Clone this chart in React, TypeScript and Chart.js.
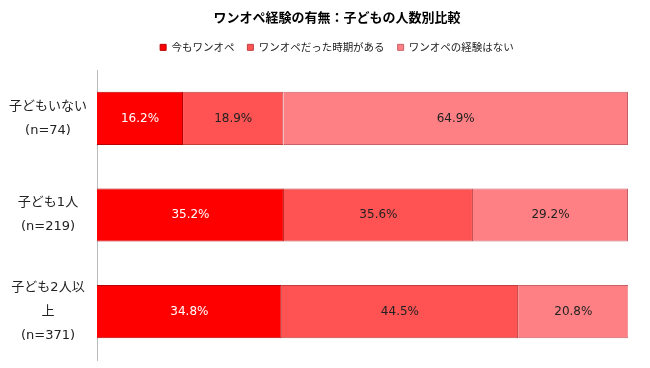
import React, { useEffect, useRef } from "react";
import { Chart, registerables } from "chart.js";

Chart.register(...registerables);

const categories: string[][] = [
  ["子どもいない", "(n=74)"],
  ["子ども1人", "(n=219)"],
  ["子ども2人以", "上", "(n=371)"],
];
const seriesNames = ["今もワンオペ", "ワンオペだった時期がある", "ワンオペの経験はない"];
const nowValues = [16.2, 35.2, 34.8];
const pastValues = [18.9, 35.6, 44.5];
const neverValues = [64.9, 29.2, 20.8];
const colors = ["#FF0000", "#FF5353", "#FF8084"];
const borders = ["#B80000", "#C04040", "#C86068"];
const labelColors = ["#FFFFFF", "#222222", "#222222"];

const FONT = "'DejaVu Sans', 'Noto Sans CJK JP', sans-serif";
const JFONT = "'Noto Sans CJK JP', 'DejaVu Sans', sans-serif";

const valueLabels = {
  id: "valueLabels",
  afterDatasetsDraw(chart: any) {
    const ctx = chart.ctx;
    ctx.save();
    ctx.font = `12px ${FONT}`;
    ctx.textAlign = "center";
    ctx.textBaseline = "middle";
    chart.data.datasets.forEach((ds: any, i: number) => {
      const meta = chart.getDatasetMeta(i);
      meta.data.forEach((bar: any, j: number) => {
        const v = ds.data[j];
        const cx = (bar.x + bar.base) / 2;
        ctx.fillStyle = labelColors[i];
        ctx.fillText(v.toFixed(1) + "%", cx, bar.y);
      });
    });
    ctx.restore();
  },
};

const legendGap = {
  id: "legendGap",
  beforeLayout(chart: any) {
    const lg = chart.legend;
    if (lg && !lg._gapPatched) {
      const orig = lg.fit.bind(lg);
      lg.fit = function () {
        orig();
        this.height += 7.5;
      };
      lg._gapPatched = true;
    }
  },
};

export default function App() {
  const ref = useRef<HTMLCanvasElement | null>(null);
  useEffect(() => {
    document.body.style.margin = "0";
    const data = [nowValues, pastValues, neverValues];
    const chart = new Chart(ref.current as HTMLCanvasElement, {
      type: "bar",
      data: {
        labels: categories as any,
        datasets: seriesNames.map((name, i) => ({
          label: name,
          data: data[i],
          backgroundColor: colors[i],
          borderColor: borders[i],
          borderWidth: 1,
          categoryPercentage: 1,
          barPercentage: 0.55,
        })),
      },
      options: {
        indexAxis: "y",
        animation: false,
        responsive: false,
        layout: { padding: { left: 46, right: 22, top: 2, bottom: 8 } },
        scales: {
          x: { stacked: true, min: 0, max: 100, display: false },
          y: {
            stacked: true,
            grid: { display: false, drawTicks: false },
            border: { display: true, color: "#BBBBBB" },
            ticks: {
              crossAlign: "center",
              padding: 10,
              color: "#222222",
              font: { family: FONT, size: 13, lineHeight: 1.85 },
            },
            afterFit: (scale: any) => {
              scale.width = 51;
              scale.paddingTop = 0;
              scale.paddingBottom = 0;
              scale._computeLabelArea = () => undefined;
            },
          },
        },
        plugins: {
          title: {
            display: true,
            text: "ワンオペ経験の有無：子どもの人数別比較",
            color: "#000000",
            font: { family: JFONT, size: 13, weight: "bold" },
            padding: { top: 7.5, bottom: 4 },
          },
          legend: {
            display: true,
            labels: {
              boxWidth: 6,
              boxHeight: 6,
              color: "#222222",
              padding: 13,
              font: { family: JFONT, size: 10.5 },
            },
          },
          tooltip: { enabled: false },
        },
      },
      plugins: [valueLabels, legendGap],
    });
    return () => chart.destroy();
  }, []);
  return (
    <div style={{ width: 650, height: 368, background: "#fff" }}>
      <canvas ref={ref} width={650} height={368} />
    </div>
  );
}
